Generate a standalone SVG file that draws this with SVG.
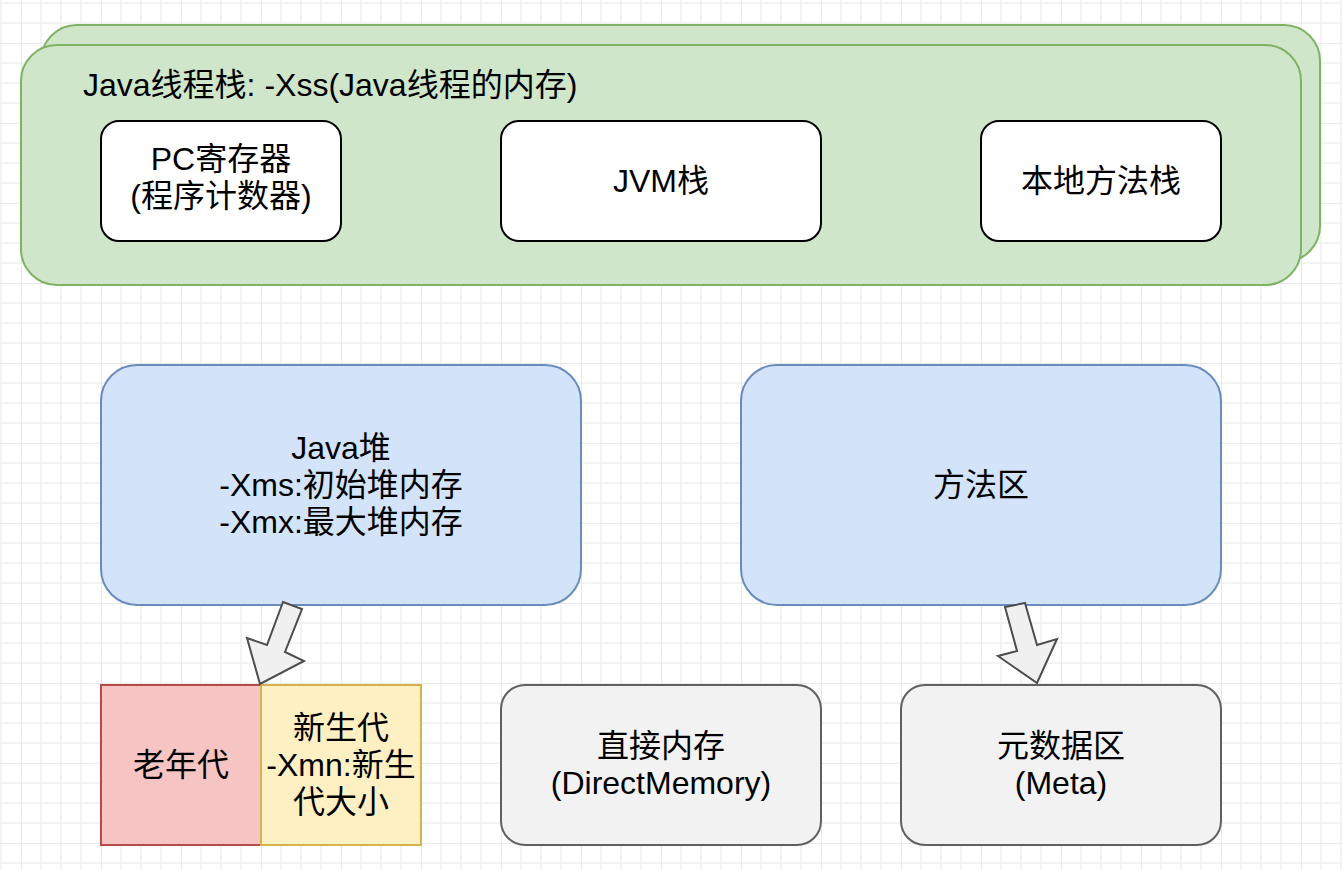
<svg xmlns="http://www.w3.org/2000/svg" width="1342" height="870" viewBox="0 0 1342 870">
<defs>
<pattern id="grid" patternUnits="userSpaceOnUse" x="21" y="43" width="80" height="80">
<rect width="80" height="80" fill="#ffffff"/>
<path d="M20 0V80M40 0V80M60 0V80M0 20H80M0 40H80M0 60H80" stroke="#f0f0f0" stroke-width="1.5" fill="none"/>
<path d="M0 0V80M0 0H80" stroke="#e3e3e3" stroke-width="1.5" fill="none"/>
</pattern>
<style>
text{font-family:"Liberation Sans","Noto Sans CJK SC",sans-serif;font-size:32px;fill:#000;text-anchor:middle}
.green{fill:#cfe6cb;stroke:#7fb265;stroke-width:2}
.white{fill:#ffffff;stroke:#000000;stroke-width:2}
.blue{fill:#d3e3fa;stroke:#6a8cbd;stroke-width:2}
.red{fill:#f5c4c3;stroke:#b34b47;stroke-width:2}
.yellow{fill:#fff0c4;stroke:#d4b24c;stroke-width:2}
.gray{fill:#f2f2f2;stroke:#606060;stroke-width:2}
.arrow{fill:#f0f0f0;stroke:#4d4d4d;stroke-width:2;stroke-linejoin:miter}
</style>
</defs>
<rect width="1342" height="870" fill="url(#grid)"/>

<g id="thread-stack-back">
<rect class="green" x="41" y="25" width="1279" height="237" rx="36" ry="36"/>
</g>
<g id="thread-stack">
<rect class="green" x="21" y="45" width="1280" height="240" rx="36" ry="36"/>
<text x="83" y="96" style="text-anchor:start">Java线程栈: -Xss(Java线程的内存)</text>
</g>
<g id="pc-register">
<rect class="white" x="101" y="121" width="240" height="120" rx="18" ry="18"/>
<text x="221" y="170">PC寄存器</text>
<text x="221" y="207">(程序计数器)</text>
</g>
<g id="jvm-stack">
<rect class="white" x="501" y="121" width="320" height="120" rx="18" ry="18"/>
<text x="661" y="192">JVM栈</text>
</g>
<g id="native-stack">
<rect class="white" x="981" y="121" width="240" height="120" rx="18" ry="18"/>
<text x="1101" y="192">本地方法栈</text>
</g>
<g id="java-heap">
<rect class="blue" x="101" y="365" width="480" height="240" rx="36" ry="36"/>
<text x="341" y="459">Java堆</text>
<text x="341" y="496">-Xms:初始堆内存</text>
<text x="341" y="533">-Xmx:最大堆内存</text>
</g>
<g id="method-area">
<rect class="blue" x="741" y="365" width="480" height="240" rx="36" ry="36"/>
<text x="981" y="496">方法区</text>
</g>
<g id="old-gen">
<rect class="red" x="101" y="685" width="160" height="160"/>
<text x="181" y="776">老年代</text>
</g>
<g id="young-gen">
<rect class="yellow" x="261" y="685" width="160" height="160"/>
<text x="341" y="739">新生代</text>
<text x="341" y="776">-Xmn:新生</text>
<text x="341" y="813">代大小</text>
</g>
<g id="direct-memory">
<rect class="gray" x="501" y="685" width="320" height="160" rx="24" ry="24"/>
<text x="661" y="757">直接内存</text>
<text x="661" y="794">(DirectMemory)</text>
</g>
<g id="metaspace">
<rect class="gray" x="901" y="685" width="320" height="160" rx="24" ry="24"/>
<text x="1061" y="757">元数据区</text>
<text x="1061" y="794">(Meta)</text>
</g>

<g id="connectors">
<polygon class="arrow" points="283,602 302,609 285,652 304,661 260,684 247,638 267,645"/>
<polygon class="arrow" points="1005,607 1025,603 1037,645 1057,639 1037,683 998,656 1017,651"/>
</g>
</svg>
